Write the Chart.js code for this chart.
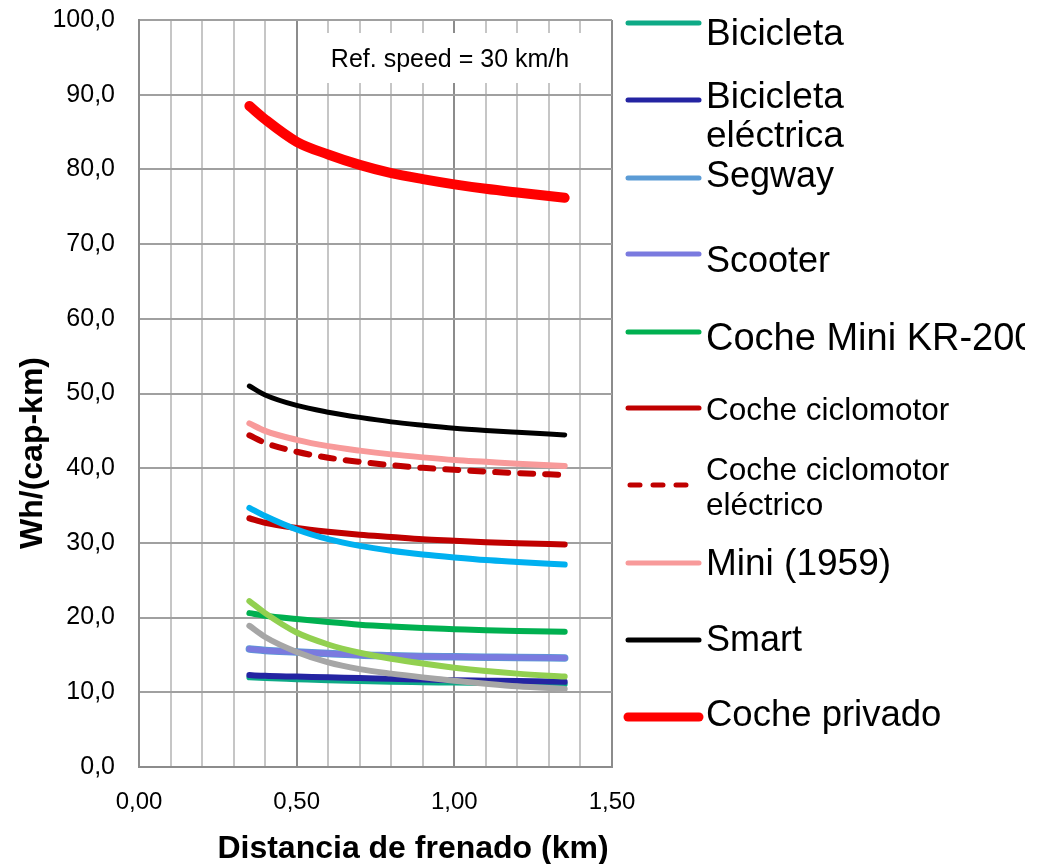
<!DOCTYPE html>
<html>
<head>
<meta charset="utf-8">
<script src="https://cdn.jsdelivr.net/npm/chart.js@4"></script>
<style>
html,body{margin:0;padding:0;background:#fff;}
#wrap{width:1046px;height:864px;position:relative;}
</style>
</head>
<body>
<div id="wrap"><canvas id="c" width="1046" height="864"></canvas></div>
<script>
// ---- data ----
const distances = [0.35, 0.40, 0.50, 0.60, 0.70, 0.80, 0.90, 1.00, 1.10, 1.20, 1.35];
const bicicleta        = [12.0, 11.9, 11.75, 11.6, 11.5, 11.4, 11.35, 11.3, 11.25, 11.2, 11.1];
const bicicletaElec    = [12.3, 12.2, 12.1, 12.0, 11.9, 11.8, 11.7, 11.6, 11.55, 11.5, 11.4];
const segway           = [15.8, 15.6, 15.4, 15.2, 15.0, 14.9, 14.8, 14.75, 14.7, 14.65, 14.6];
const scooter          = [15.8, 15.6, 15.4, 15.2, 15.0, 14.9, 14.8, 14.75, 14.7, 14.65, 14.6];
const cocheMiniKR      = [20.6, 20.25, 19.8, 19.4, 19.05, 18.8, 18.6, 18.45, 18.3, 18.2, 18.1];
const cocheCiclomotor  = [33.3, 32.7, 32.0, 31.5, 31.1, 30.8, 30.5, 30.3, 30.1, 29.95, 29.8];
const cocheCicloElec   = [44.4, 43.4, 42.2, 41.4, 40.85, 40.4, 40.05, 39.8, 39.55, 39.35, 39.1];
const mini1959         = [46.0, 45.0, 43.8, 42.95, 42.35, 41.85, 41.45, 41.1, 40.85, 40.6, 40.3];
const smart            = [51.0, 49.8, 48.4, 47.5, 46.8, 46.2, 45.75, 45.35, 45.05, 44.8, 44.45];
const cochePrivado     = [88.5, 86.7, 83.7, 82.0, 80.6, 79.5, 78.7, 78.0, 77.4, 76.9, 76.2];
const serieCian        = [34.7, 33.6, 31.8, 30.5, 29.6, 28.95, 28.45, 28.05, 27.7, 27.45, 27.1];
const serieVerdeClaro  = [22.2, 20.6, 18.0, 16.4, 15.3, 14.5, 13.85, 13.3, 12.85, 12.5, 12.1];
const serieGris        = [18.9, 17.4, 15.4, 14.0, 13.1, 12.5, 12.0, 11.55, 11.15, 10.8, 10.45];

const seriesNames = ["Bicicleta", ["Bicicleta", "eléctrica"], "Segway", "Scooter", "Coche Mini KR-200",
  "Coche ciclomotor", ["Coche ciclomotor", "eléctrico"], "Mini (1959)", "Smart", "Coche privado",
  "", "", ""];
const seriesValues = [bicicleta, bicicletaElec, segway, scooter, cocheMiniKR, cocheCiclomotor,
  cocheCicloElec, mini1959, smart, cochePrivado, serieCian, serieVerdeClaro, serieGris];
const seriesColors = ['#0EAA86', '#2424A2', '#5B9BD5', '#7A7ADF', '#00B050', '#C00000',
  '#C00000', '#F89A9A', '#000000', '#FF0000', '#00B0F0', '#92D050', '#A6A6A6'];
const seriesWidths = [6, 6, 7.5, 6, 6, 6, 6, 6, 5, 10, 6, 6, 6];
const seriesDashed = [false, false, false, false, false, false, true, false, false, false, false, false, false];

const yTicksMax = 100, yStep = 10, xMax = 1.5, xStep = 0.1;
const refText = "Ref. speed = 30 km/h";
const xTitle = "Distancia de frenado (km)";
const yTitle = "Wh/(cap-km)";

const FONT = "'Liberation Sans', Arial, sans-serif";

const datasets = seriesValues.map((vals, i) => ({
  label: Array.isArray(seriesNames[i]) ? seriesNames[i].join(' ') : seriesNames[i],
  data: distances.map((d, k) => ({x: d, y: vals[k]})),
  borderColor: seriesColors[i],
  backgroundColor: seriesColors[i],
  borderWidth: seriesWidths[i],
  borderDash: seriesDashed[i] ? [13, 12] : [],
  borderCapStyle: 'round',
  borderJoinStyle: 'round',
  showLine: true,
  pointRadius: 0,
  cubicInterpolationMode: 'monotone',
  order: seriesValues.length - i,
  fill: false
}));

// legend layout (per legend entry): line y, text baseline(s), font size
const legendLayout = [
  {ly: 23, tb: [45], fs: 37},
  {ly: 100, tb: [108, 147], fs: 37},
  {ly: 178, tb: [187], fs: 36},
  {ly: 254, tb: [272], fs: 36},
  {ly: 332, tb: [350], fs: 38},
  {ly: 408, tb: [420], fs: 31.5},
  {ly: 485, tb: [480, 515], fs: 31.5},
  {ly: 563, tb: [575], fs: 37},
  {ly: 640, tb: [651], fs: 36},
  {ly: 717, tb: [726], fs: 36.5}
];

const isMajor = v => Math.abs(v * 2 - Math.round(v * 2)) < 1e-6;

const decorPlugin = {
  id: 'decor',
  beforeDatasetsDraw(chart) {
    const ctx = chart.ctx;
    ctx.save();
    ctx.fillStyle = '#ffffff';
    ctx.fillRect(311, 33, 288, 50);
    ctx.fillStyle = '#000';
    ctx.font = '25px ' + FONT;
    ctx.textAlign = 'center';
    ctx.textBaseline = 'alphabetic';
    ctx.fillText(refText, 450, 67);
    ctx.restore();
  },
  afterDraw(chart) {
    const ctx = chart.ctx;
    ctx.save();
    // axis titles
    ctx.fillStyle = '#000';
    ctx.font = 'bold 32px ' + FONT;
    ctx.textAlign = 'center';
    ctx.textBaseline = 'alphabetic';
    ctx.fillText(xTitle, 413, 858);
    ctx.save();
    ctx.translate(42, 453);
    ctx.rotate(-Math.PI / 2);
    ctx.fillText(yTitle, 0, 0);
    ctx.restore();
    // legend
    ctx.beginPath();
    ctx.rect(615, 0, 410, 864);
    ctx.clip();
    legendLayout.forEach((L, i) => {
      const ds = chart.data.datasets[i];
      ctx.save();
      ctx.strokeStyle = ds.borderColor;
      ctx.lineWidth = i === 9 ? 9 : 5;
      ctx.lineCap = 'round';
      if (seriesDashed[i]) {
        ctx.setLineDash([10, 13]);
        ctx.beginPath(); ctx.moveTo(630, L.ly); ctx.lineTo(690, L.ly); ctx.stroke();
      } else {
        ctx.beginPath(); ctx.moveTo(628, L.ly); ctx.lineTo(699, L.ly); ctx.stroke();
      }
      ctx.restore();
      const lines = Array.isArray(seriesNames[i]) ? seriesNames[i] : [seriesNames[i]];
      ctx.font = L.fs + 'px ' + FONT;
      ctx.textAlign = 'left';
      ctx.fillStyle = '#000';
      lines.forEach((t, k) => ctx.fillText(t, 706, L.tb[k]));
    });
    ctx.restore();
  }
};

new Chart(document.getElementById('c'), {
  type: 'scatter',
  data: {datasets},
  options: {
    responsive: false,
    animation: false,
    devicePixelRatio: 1,
    layout: {padding: {left: 0, top: 20, right: 434, bottom: 0}},
    plugins: {legend: {display: false}, tooltip: {enabled: false}, title: {display: false}},
    scales: {
      x: {
        type: 'linear', min: 0, max: xMax,
        afterFit(scale) { scale.height = 97; scale.paddingLeft = 0; scale.paddingRight = 0; },
        ticks: {
          stepSize: xStep, autoSkip: false, maxRotation: 0, padding: 21,
          color: '#000', font: {family: FONT, size: 24},
          callback: v => isMajor(v) ? v.toFixed(2).replace('.', ',') : ''
        },
        grid: {
          drawTicks: false, lineWidth: 2,
          color: c => (c.tick && isMajor(c.tick.value)) ? '#8C8C8C' : '#C6C6C6'
        },
        border: {display: true, color: '#8C8C8C', width: 2}
      },
      y: {
        type: 'linear', min: 0, max: yTicksMax,
        afterFit(scale) { scale.width = 139; scale.paddingTop = 0; scale.paddingBottom = 0; },
        ticks: {
          stepSize: yStep, padding: 24, color: '#000', font: {family: FONT, size: 25},
          callback: v => v.toFixed(1).replace('.', ',')
        },
        grid: {drawTicks: false, lineWidth: 2, color: '#A0A0A0'},
        border: {display: true, color: '#8C8C8C', width: 2}
      }
    }
  },
  plugins: [decorPlugin]
});
</script>
</body>
</html>
